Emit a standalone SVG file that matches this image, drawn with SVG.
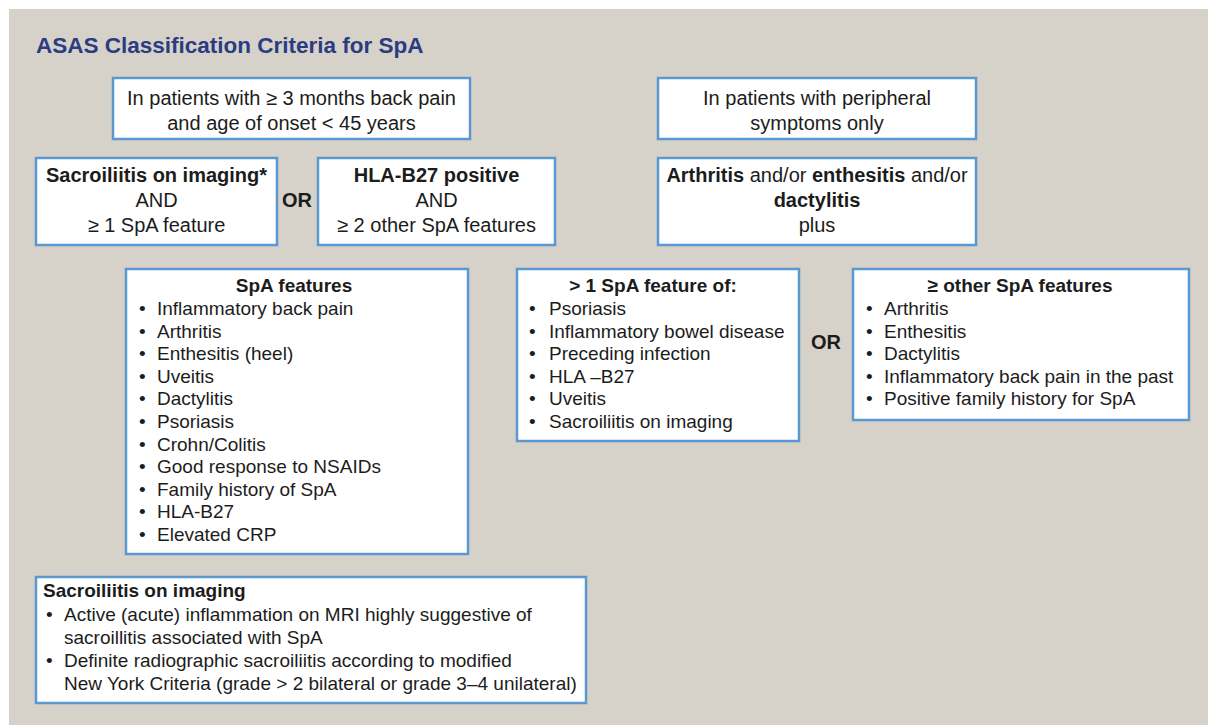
<svg xmlns="http://www.w3.org/2000/svg" width="1208" height="725" viewBox="0 0 1208 725">
<style>
.bg{fill:#d6d2c9}
.box{fill:#ffffff;stroke:#5b98d2;stroke-width:2.5}
text{font-family:"Liberation Sans",Arial,Helvetica,sans-serif;font-size:19px;fill:#1c1c1c}
.big{font-size:20px}
.c{text-anchor:middle}
.b{font-weight:bold}
.title{font-size:22.5px;font-weight:bold;fill:#2b3c82}
.or{font-size:20px;font-weight:bold}
</style>
<rect class="bg" x="9" y="9" width="1199" height="716"/>
<text class="title" x="36" y="53">ASAS Classification Criteria for SpA</text>

<g id="backpain">
<rect class="box" x="113" y="78" width="357" height="61"/>
<text class="big c" x="291.5" y="104.5">In patients with ≥ 3 months back pain</text>
<text class="big c" x="291.5" y="129.5">and age of onset &lt; 45 years</text>
</g>

<g id="peripheral">
<rect class="box" x="658" y="78" width="318" height="61"/>
<text class="big c" x="817" y="104.5">In patients with peripheral</text>
<text class="big c" x="817" y="129.5">symptoms only</text>
</g>

<g id="imaging-arm">
<rect class="box" x="36" y="158" width="241" height="87"/>
<text class="big c b" x="156.5" y="182">Sacroiliitis on imaging*</text>
<text class="big c" x="156.5" y="207">AND</text>
<text class="big c" x="156.5" y="232">≥ 1 SpA feature</text>
</g>

<g id="or1"><text class="or c" x="297" y="207">OR</text></g>

<g id="hla-arm">
<rect class="box" x="318" y="158" width="237" height="87"/>
<text class="big c b" x="436.5" y="182">HLA-B27 positive</text>
<text class="big c" x="436.5" y="207">AND</text>
<text class="big c" x="436.5" y="232">≥ 2 other SpA features</text>
</g>

<g id="peripheral-arm">
<rect class="box" x="658" y="158" width="318" height="87"/>
<text class="big c" x="817" y="182"><tspan class="b">Arthritis</tspan> and/or <tspan class="b">enthesitis</tspan> and/or</text>
<text class="big c b" x="817" y="207">dactylitis</text>
<text class="big c" x="817" y="232">plus</text>
</g>

<g id="spa-features">
<rect class="box" x="126" y="269" width="342" height="285"/>
<text class="c b" x="294" y="292">SpA features</text>
<text x="139" y="315">•</text><text x="157" y="315">Inflammatory back pain</text>
<text x="139" y="337.6">•</text><text x="157" y="337.6">Arthritis</text>
<text x="139" y="360.2">•</text><text x="157" y="360.2">Enthesitis (heel)</text>
<text x="139" y="382.8">•</text><text x="157" y="382.8">Uveitis</text>
<text x="139" y="405.4">•</text><text x="157" y="405.4">Dactylitis</text>
<text x="139" y="428">•</text><text x="157" y="428">Psoriasis</text>
<text x="139" y="450.6">•</text><text x="157" y="450.6">Crohn/Colitis</text>
<text x="139" y="473.2">•</text><text x="157" y="473.2">Good response to NSAIDs</text>
<text x="139" y="495.8">•</text><text x="157" y="495.8">Family history of SpA</text>
<text x="139" y="518.4">•</text><text x="157" y="518.4">HLA-B27</text>
<text x="139" y="541">•</text><text x="157" y="541">Elevated CRP</text>
</g>

<g id="gt1-feature">
<rect class="box" x="517" y="269" width="282" height="172"/>
<text class="c b" x="653" y="292">&gt; 1 SpA feature of:</text>
<text x="529" y="315">•</text><text x="549" y="315">Psoriasis</text>
<text x="529" y="337.6">•</text><text x="549" y="337.6">Inflammatory bowel disease</text>
<text x="529" y="360.2">•</text><text x="549" y="360.2">Preceding infection</text>
<text x="529" y="382.8">•</text><text x="549" y="382.8">HLA –B27</text>
<text x="529" y="405.4">•</text><text x="549" y="405.4">Uveitis</text>
<text x="529" y="428">•</text><text x="549" y="428">Sacroiliitis on imaging</text>
</g>

<g id="or2"><text class="or c" x="826" y="349">OR</text></g>

<g id="other-features">
<rect class="box" x="853" y="269" width="336" height="151"/>
<text class="c b" x="1020" y="292">≥ other SpA features</text>
<text x="866" y="315">•</text><text x="884" y="315">Arthritis</text>
<text x="866" y="337.6">•</text><text x="884" y="337.6">Enthesitis</text>
<text x="866" y="360.2">•</text><text x="884" y="360.2">Dactylitis</text>
<text x="866" y="382.8">•</text><text x="884" y="382.8">Inflammatory back pain in the past</text>
<text x="866" y="405.4">•</text><text x="884" y="405.4">Positive family history for SpA</text>
</g>

<g id="imaging-def">
<rect class="box" x="36" y="577" width="550" height="126"/>
<text class="b" x="43" y="597">Sacroiliitis on imaging</text>
<text x="46" y="621">•</text><text x="64" y="621">Active (acute) inflammation on MRI highly suggestive of</text>
<text x="64" y="644">sacroillitis associated with SpA</text>
<text x="46" y="667">•</text><text x="64" y="667">Definite radiographic sacroiliitis according to modified</text>
<text x="64" y="690">New York Criteria (grade &gt; 2 bilateral or grade 3–4 unilateral)</text>
</g>

<g id="connectors"></g>
</svg>
